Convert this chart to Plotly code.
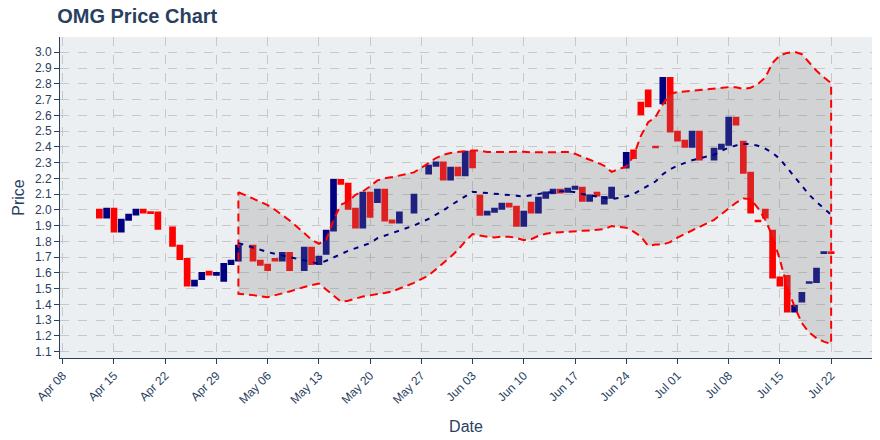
import plotly.graph_objects as go

# ---- candle data ----
dates = ["2019-04-13","2019-04-14","2019-04-15","2019-04-16","2019-04-17","2019-04-18","2019-04-19","2019-04-20","2019-04-21",
         "2019-04-23","2019-04-24","2019-04-25","2019-04-26","2019-04-27","2019-04-28","2019-04-29","2019-04-30",
         "2019-05-01","2019-05-02","2019-05-04","2019-05-05","2019-05-06","2019-05-07","2019-05-08","2019-05-09",
         "2019-05-11","2019-05-12","2019-05-13","2019-05-14","2019-05-15","2019-05-16","2019-05-17","2019-05-18",
         "2019-05-19","2019-05-20","2019-05-21","2019-05-22","2019-05-23","2019-05-24","2019-05-26","2019-05-28",
         "2019-05-29","2019-05-30","2019-05-31","2019-06-01","2019-06-02","2019-06-03","2019-06-04","2019-06-05",
         "2019-06-06","2019-06-07","2019-06-08","2019-06-09","2019-06-10","2019-06-11","2019-06-12","2019-06-13",
         "2019-06-14","2019-06-15","2019-06-16","2019-06-17","2019-06-18","2019-06-19","2019-06-20","2019-06-21",
         "2019-06-22","2019-06-24","2019-06-25","2019-06-26","2019-06-27","2019-06-28","2019-06-29","2019-06-30",
         "2019-07-01","2019-07-02","2019-07-03","2019-07-04","2019-07-06","2019-07-07","2019-07-08","2019-07-09",
         "2019-07-10","2019-07-11","2019-07-12","2019-07-13","2019-07-14","2019-07-15","2019-07-16","2019-07-17",
         "2019-07-18","2019-07-19","2019-07-20","2019-07-21","2019-07-22"]
opens = [2.000,1.952,2.007,1.863,1.937,1.971,2.000,1.985,1.984,
         1.888,1.772,1.689,1.520,1.562,1.607,1.588,1.551,
         1.657,1.679,1.772,1.677,1.651,1.689,1.679,1.726,
         1.619,1.759,1.657,1.721,1.869,2.190,2.165,2.007,
         1.888,2.109,2.050,2.128,1.933,1.920,1.984,2.231,
         2.280,2.300,2.193,2.267,2.219,2.369,2.089,1.971,
         1.988,2.007,2.039,2.020,1.900,2.045,1.984,2.077,
         2.107,2.128,2.115,2.134,2.140,2.058,2.109,2.041,
         2.077,2.269,2.376,2.680,2.757,2.400,2.676,2.837,
         2.496,2.439,2.401,2.496,2.320,2.388,2.414,2.585,
         2.433,2.236,1.931,2.000,1.867,1.571,1.581,1.355,
         1.418,1.537,1.543,1.727,1.731]
closes = [1.952,2.007,1.863,1.937,1.969,2.000,1.983,1.980,1.880,
          1.772,1.689,1.520,1.551,1.600,1.590,1.600,1.657,
          1.677,1.772,1.679,1.651,1.619,1.679,1.726,1.619,
          1.759,1.657,1.702,1.867,2.190,2.165,2.007,1.888,
          2.109,1.956,2.128,1.933,1.920,1.984,2.096,2.280,
          2.300,2.193,2.267,2.219,2.369,2.270,1.969,1.988,
          2.007,2.039,2.022,1.900,1.988,1.984,2.077,2.111,
          2.128,2.111,2.134,2.147,2.058,2.091,2.091,2.081,
          2.140,2.361,2.329,2.606,2.657,2.397,2.837,2.498,
          2.441,2.401,2.496,2.320,2.388,2.414,2.585,2.541,
          2.236,1.984,1.927,1.952,1.571,1.520,1.355,1.391,
          1.473,1.541,1.626,1.731,1.727]
highs = [max(o, c) for o, c in zip(opens, closes)]
lows = [min(o, c) for o, c in zip(opens, closes)]

# ---- Bollinger band values ----
band_dates = dates[18:]
upper = [2.113,2.069,2.051,2.030,2.001,1.969,1.933,1.853,1.810,1.785,1.810,1.937,2.032,2.053,2.096,2.117,2.149,
         2.187,2.200,2.208,2.217,2.238,2.297,2.329,2.350,2.361,2.367,2.371,2.377,2.376,2.367,2.367,2.367,2.369,
         2.371,2.369,2.365,2.365,2.367,2.367,2.367,2.367,2.356,2.335,2.318,2.301,2.280,2.241,2.276,2.341,2.470,
         2.556,2.590,2.670,2.737,2.747,2.752,2.757,2.761,2.769,2.774,2.779,2.778,2.767,2.775,2.798,2.840,2.933,
         2.980,2.996,3.003,2.988,2.935,2.883,2.841,2.804]
middle = [1.789,1.764,1.747,1.732,1.721,1.710,1.698,1.677,1.668,1.658,1.677,1.700,1.719,1.740,1.757,1.772,1.789,
          1.820,1.837,1.853,1.867,1.901,1.943,1.969,1.996,2.028,2.058,2.085,2.115,2.111,2.107,2.104,2.102,2.096,
          2.090,2.085,2.091,2.100,2.109,2.115,2.118,2.118,2.112,2.100,2.091,2.085,2.077,2.068,2.085,2.100,2.128,
          2.153,2.180,2.226,2.257,2.280,2.300,2.315,2.327,2.350,2.374,2.395,2.409,2.418,2.417,2.407,2.388,2.362,
          2.323,2.266,2.206,2.149,2.096,2.050,2.011,1.969]
lower = [1.467,1.459,1.452,1.446,1.459,1.469,1.482,1.511,1.522,1.532,1.499,1.456,1.418,1.423,1.437,1.450,1.459,
         1.466,1.473,1.482,1.497,1.537,1.584,1.620,1.662,1.702,1.745,1.800,1.846,1.837,1.829,1.825,1.830,1.830,
         1.822,1.808,1.814,1.835,1.848,1.856,1.861,1.863,1.865,1.867,1.869,1.872,1.878,1.897,1.887,1.862,1.831,
         1.772,1.780,1.780,1.795,1.824,1.846,1.870,1.892,1.937,1.972,2.009,2.045,2.072,2.069,2.011,1.937,1.831,
         1.683,1.508,1.386,1.281,1.222,1.186,1.164,1.149]

NAVY = "#000080"
RED = "#ff0000"
TXT = "#2a3f5f"

fig = go.Figure()
fig.add_trace(go.Candlestick(
    x=dates, open=opens, high=highs, low=lows, close=closes,
    increasing=dict(line=dict(color=NAVY, width=2), fillcolor=NAVY),
    decreasing=dict(line=dict(color=RED, width=2), fillcolor=RED),
    showlegend=False, hoverinfo="skip"))

poly_x = band_dates + band_dates[::-1] + [band_dates[0]]
poly_y = upper + lower[::-1] + [upper[0]]
fig.add_trace(go.Scatter(
    x=poly_x, y=poly_y, mode="lines", fill="toself",
    fillcolor="rgba(128,128,128,0.25)",
    line=dict(color=RED, width=2, dash="8px,5px"),
    showlegend=False, hoverinfo="skip"))
fig.add_trace(go.Scatter(
    x=band_dates, y=middle, mode="lines",
    line=dict(color=NAVY, width=2, dash="5px,6px"),
    showlegend=False, hoverinfo="skip"))

fig.update_layout(
    width=880, height=440,
    margin=dict(l=60, r=8, t=37, b=82),
    paper_bgcolor="white", plot_bgcolor="#eceff1",
    boxgap=0.2, boxgroupgap=0.2,
    font=dict(family="Arial, Liberation Sans, sans-serif", size=12, color=TXT),
    title=dict(text="<b>OMG Price Chart</b>", font=dict(size=20, color=TXT),
               xref="container", x=0.065, xanchor="left",
               yref="container", y=1 - 15.5 / 440, yanchor="middle"),
    showlegend=False,
)
fig.update_xaxes(
    type="date", range=["2019-04-07 15:00", "2019-07-27 14:00"],
    tick0="2019-04-08", dtick=7 * 86400000, tickformat="%b %d", tickangle=-45,
    showline=True, linecolor=TXT, linewidth=1, ticks="outside", ticklen=5, tickcolor=TXT,
    showgrid=True, gridcolor="#c8c8c8", griddash="dash", gridwidth=1,
    rangeslider=dict(visible=False),
    title=dict(text="Date", font=dict(size=16)),
)
fig.update_yaxes(
    range=[1.06, 3.097], dtick=0.1, tick0=0, tickformat=".1f",
    showline=True, linecolor=TXT, linewidth=1, ticks="outside", ticklen=5, tickcolor=TXT,
    showgrid=True, gridcolor="#c8c8c8", griddash="dash", gridwidth=1, zeroline=False,
    title=dict(text="Price", font=dict(size=16), standoff=6),
)

fig.write_html("out.html")
